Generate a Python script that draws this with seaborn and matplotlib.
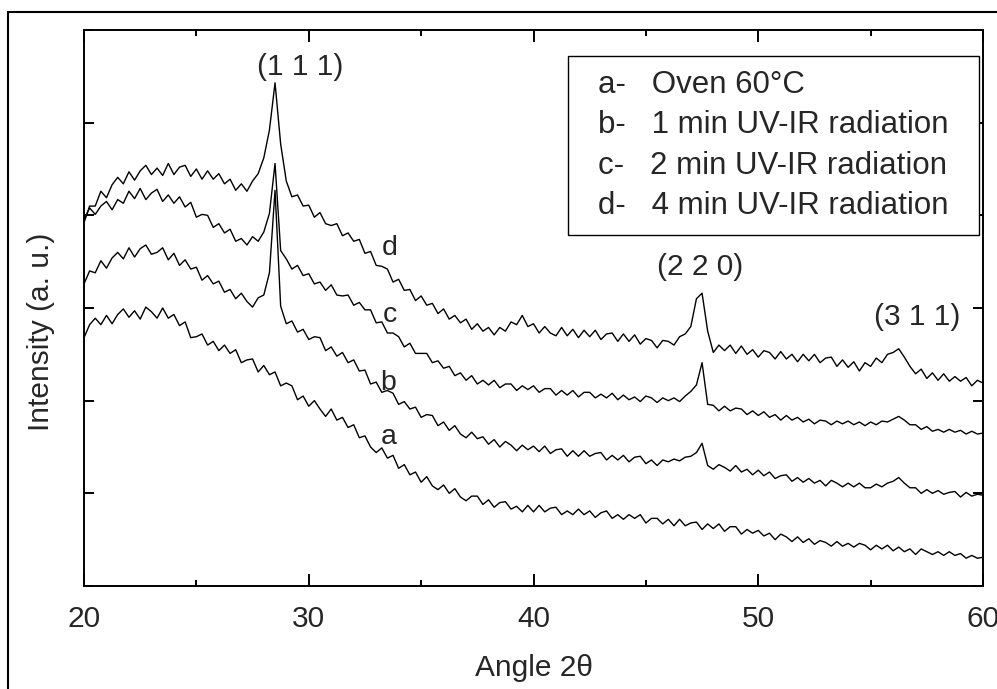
import numpy as np
import pandas as pd
import matplotlib
matplotlib.use("Agg")
import matplotlib.pyplot as plt
import seaborn as sns
from matplotlib.lines import Line2D
from matplotlib.ticker import MultipleLocator

# ---------------- data ----------------
# 2-theta sampling grid: 20.00, 20.25, ... 60.00 (161 points)
angle = np.arange(161) * 0.25 + 20.0

int_a = [2.68, 2.82, 2.89, 2.82, 2.92, 2.83, 2.93, 2.99,
         2.90, 2.97, 2.88, 3.01, 2.96, 2.89, 3.00, 2.89,
         2.93, 2.81, 2.85, 2.68, 2.69, 2.72, 2.60, 2.64,
         2.54, 2.60, 2.51, 2.55, 2.41, 2.44, 2.45, 2.31,
         2.38, 2.28, 2.31, 2.16, 2.19, 2.16, 2.01, 2.05,
         1.94, 2.00, 1.91, 1.83, 1.91, 1.79, 1.82, 1.71,
         1.74, 1.60, 1.62, 1.50, 1.44, 1.49, 1.38, 1.41,
         1.27, 1.31, 1.20, 1.23, 1.12, 1.18, 1.08, 1.04,
         1.09, 1.00, 1.05, 0.96, 0.92, 0.97, 0.97, 0.88,
         0.93, 0.85, 0.90, 0.91, 0.83, 0.86, 0.80, 0.87,
         0.80, 0.87, 0.80, 0.84, 0.85, 0.77, 0.81, 0.77,
         0.83, 0.77, 0.81, 0.74, 0.79, 0.81, 0.73, 0.77,
         0.72, 0.77, 0.73, 0.77, 0.68, 0.73, 0.73, 0.67,
         0.72, 0.65, 0.72, 0.65, 0.68, 0.69, 0.61, 0.67,
         0.62, 0.67, 0.59, 0.64, 0.64, 0.56, 0.61, 0.57,
         0.60, 0.54, 0.57, 0.50, 0.56, 0.53, 0.48, 0.53,
         0.47, 0.51, 0.45, 0.49, 0.47, 0.43, 0.48, 0.43,
         0.46, 0.42, 0.46, 0.44, 0.39, 0.44, 0.40, 0.44,
         0.38, 0.42, 0.37, 0.40, 0.34, 0.40, 0.37, 0.34,
         0.37, 0.33, 0.37, 0.33, 0.35, 0.30, 0.33, 0.30,
         0.31]

int_b = [3.26, 3.40, 3.38, 3.51, 3.43, 3.54, 3.60, 3.53,
         3.65, 3.55, 3.64, 3.68, 3.58, 3.60, 3.65, 3.52,
         3.59, 3.46, 3.52, 3.42, 3.44, 3.30, 3.35, 3.26,
         3.29, 3.17, 3.20, 3.10, 3.16, 3.07, 3.01, 3.11,
         3.14, 3.38, 4.27, 3.02, 2.83, 2.86, 2.74, 2.77,
         2.66, 2.69, 2.68, 2.54, 2.58, 2.48, 2.52, 2.41,
         2.44, 2.32, 2.33, 2.18, 2.20, 2.09, 2.11, 2.08,
         1.96, 1.99, 1.91, 1.93, 1.82, 1.85, 1.84, 1.73,
         1.77, 1.68, 1.73, 1.64, 1.60, 1.66, 1.59, 1.61,
         1.53, 1.58, 1.50, 1.56, 1.52, 1.46, 1.52, 1.47,
         1.51, 1.45, 1.51, 1.43, 1.47, 1.48, 1.40, 1.46,
         1.40, 1.46, 1.40, 1.43, 1.44, 1.36, 1.41, 1.36,
         1.41, 1.34, 1.39, 1.40, 1.32, 1.36, 1.30, 1.36,
         1.34, 1.37, 1.35, 1.39, 1.40, 1.44, 1.54, 1.30,
         1.26, 1.31, 1.28, 1.24, 1.30, 1.23, 1.26, 1.20,
         1.25, 1.19, 1.23, 1.16, 1.19, 1.20, 1.13, 1.17,
         1.12, 1.16, 1.11, 1.14, 1.08, 1.14, 1.11, 1.07,
         1.11, 1.07, 1.11, 1.06, 1.06, 1.10, 1.07, 1.11,
         1.13, 1.17, 1.11, 1.06, 1.06, 1.00, 1.04, 1.00,
         1.03, 0.99, 1.01, 1.02, 0.96, 1.01, 0.97, 0.99,
         0.98]

int_c = [3.95, 4.08, 4.01, 4.10, 4.15, 4.06, 4.17, 4.13,
         4.26, 4.18, 4.29, 4.17, 4.24, 4.28, 4.15, 4.22,
         4.13, 4.20, 4.09, 4.14, 3.98, 4.01, 4.00, 3.87,
         3.91, 3.81, 3.85, 3.72, 3.75, 3.68, 3.77, 3.72,
         3.82, 4.02, 4.56, 3.62, 3.53, 3.42, 3.46, 3.35,
         3.37, 3.26, 3.28, 3.19, 3.25, 3.14, 3.13, 3.14,
         3.03, 3.06, 2.98, 2.98, 2.84, 2.85, 2.73, 2.73,
         2.69, 2.58, 2.62, 2.51, 2.51, 2.51, 2.41, 2.43,
         2.35, 2.37, 2.27, 2.30, 2.22, 2.27, 2.18, 2.22,
         2.17, 2.22, 2.14, 2.18, 2.18, 2.11, 2.16, 2.12,
         2.16, 2.09, 2.13, 2.13, 2.06, 2.11, 2.06, 2.11,
         2.04, 2.09, 2.09, 2.03, 2.07, 2.03, 2.08, 2.01,
         2.06, 2.01, 2.04, 1.99, 2.05, 2.03, 1.98, 2.03,
         2.00, 2.03, 1.99, 2.05, 2.10, 2.17, 2.41, 1.96,
         1.95, 1.89, 1.94, 1.89, 1.92, 1.91, 1.85, 1.89,
         1.84, 1.88, 1.82, 1.85, 1.79, 1.84, 1.79, 1.82,
         1.77, 1.80, 1.75, 1.79, 1.78, 1.74, 1.78, 1.75,
         1.78, 1.74, 1.77, 1.73, 1.77, 1.74, 1.78, 1.77,
         1.80, 1.83, 1.79, 1.74, 1.74, 1.69, 1.72, 1.67,
         1.69, 1.66, 1.69, 1.66, 1.68, 1.64, 1.67, 1.64,
         1.65]

int_d = [3.92, 4.10, 4.10, 4.26, 4.19, 4.33, 4.41, 4.34,
         4.47, 4.38, 4.48, 4.54, 4.44, 4.51, 4.43, 4.56,
         4.44, 4.52, 4.54, 4.42, 4.50, 4.39, 4.48, 4.39,
         4.45, 4.34, 4.39, 4.27, 4.34, 4.26, 4.37, 4.45,
         4.62, 4.92, 5.43, 4.77, 4.37, 4.20, 4.22, 4.10,
         4.11, 3.98, 4.03, 3.91, 3.89, 3.91, 3.78, 3.81,
         3.72, 3.74, 3.59, 3.61, 3.46, 3.45, 3.42, 3.28,
         3.31, 3.19, 3.20, 3.08, 3.13, 3.03, 3.05, 2.94,
         2.99, 2.88, 2.92, 2.84, 2.88, 2.77, 2.83, 2.75,
         2.79, 2.71, 2.79, 2.75, 2.85, 2.82, 2.92, 2.80,
         2.83, 2.73, 2.80, 2.73, 2.70, 2.79, 2.70, 2.77,
         2.68, 2.76, 2.69, 2.76, 2.66, 2.72, 2.73, 2.64,
         2.72, 2.64, 2.71, 2.61, 2.67, 2.65, 2.57, 2.65,
         2.64, 2.60, 2.69, 2.72, 2.80, 3.10, 3.16, 2.75,
         2.52, 2.60, 2.54, 2.60, 2.51, 2.59, 2.50, 2.55,
         2.47, 2.54, 2.52, 2.45, 2.53, 2.45, 2.50, 2.42,
         2.50, 2.43, 2.50, 2.41, 2.46, 2.47, 2.37, 2.44,
         2.36, 2.42, 2.32, 2.41, 2.37, 2.46, 2.41, 2.50,
         2.52, 2.56, 2.47, 2.37, 2.29, 2.34, 2.24, 2.30,
         2.22, 2.29, 2.21, 2.26, 2.21, 2.25, 2.16, 2.22,
         2.19]

curve_keys = ["a", "b", "c", "d"]
legend_labels = ["a-   Oven 60°C",
                 "b-   1 min UV-IR radiation",
                 "c-   2 min UV-IR radiation",
                 "d-   4 min UV-IR radiation"]
curve_tags = {"a": (33.55, 1.61), "b": (33.55, 2.19), "c": (33.62, 2.92), "d": (33.62, 3.65)}
peak_labels = ["(1 1 1)", "(2 2 0)", "(3 1 1)"]
peak_label_pos = [(29.61, 5.60), (47.41, 3.44), (57.06, 2.90)]
x_ticks = [20, 30, 40, 50, 60]

# ---------------- plotting ----------------
sns.set_style("ticks")
plt.rcParams["font.family"] = ["Liberation Sans", "DejaVu Sans"]
plt.rcParams["axes.edgecolor"] = "black"
plt.rcParams["axes.linewidth"] = 1.4

W, H = 997, 689
fig = plt.figure(figsize=(W / 100, H / 100), dpi=100)
ax = fig.add_axes([84 / W, (H - 586) / H, 899 / W, 556 / H])

df = pd.DataFrame({"angle": np.tile(angle, 4),
                   "intensity": np.concatenate([int_a, int_b, int_c, int_d]),
                   "sample": np.repeat(curve_keys, len(angle))})

sns.lineplot(data=df, x="angle", y="intensity", hue="sample",
             palette={k: "black" for k in curve_keys}, estimator=None,
             linewidth=1.0, ax=ax, legend=False)

ax.set_xlim(20, 60)
ax.set_ylim(0, 6)
ax.set_xticks(x_ticks)
ax.xaxis.set_minor_locator(MultipleLocator(5))
ax.set_yticks([0, 1, 2, 3, 4, 5, 6])
ax.tick_params(which="both", direction="in", top=True, right=True,
               color="black", width=1.4, labelleft=False)
ax.tick_params(axis="x", which="major", length=8.5, labelsize=21.5, pad=14)
ax.tick_params(axis="x", which="minor", length=4.5)
ax.tick_params(axis="y", which="major", length=7)

ax.set_xlabel("Angle 2θ", fontsize=21.5)
ax.set_ylabel("Intensity (a. u.)", fontsize=21.5)
ax.xaxis.set_label_coords(0.5, -0.122)
ax.yaxis.set_label_coords(-0.032, 0.457)

for k in curve_keys:
    tx, ty = curve_tags[k]
    ax.text(tx, ty, k, fontsize=20.5, ha="center", va="center")
for lab, (px, py) in zip(peak_labels, peak_label_pos):
    ax.text(px, py, lab, fontsize=21.5, ha="center", va="center")

handles = ax.get_lines()[:4]
leg = ax.legend(handles=handles, labels=legend_labels, loc="upper left",
                bbox_to_anchor=(0.5384, 0.0, 0.4572, 0.9532), mode="expand",
                borderaxespad=0, fontsize=22.5, handlelength=0,
                handletextpad=0.51, borderpad=0.45, labelspacing=0.33,
                frameon=True, fancybox=False, edgecolor="black", framealpha=1)
leg.get_frame().set_linewidth(1.0)

# outer frame of the picture (left and top edges)
fig.add_artist(Line2D([8 / W, 8 / W], [0, 1 - 12 / H], transform=fig.transFigure,
                      color="black", lw=1.5))
fig.add_artist(Line2D([8 / W, 1], [1 - 12 / H, 1 - 12 / H], transform=fig.transFigure,
                      color="black", lw=1.5))

fig.savefig("out.png", dpi=100)
